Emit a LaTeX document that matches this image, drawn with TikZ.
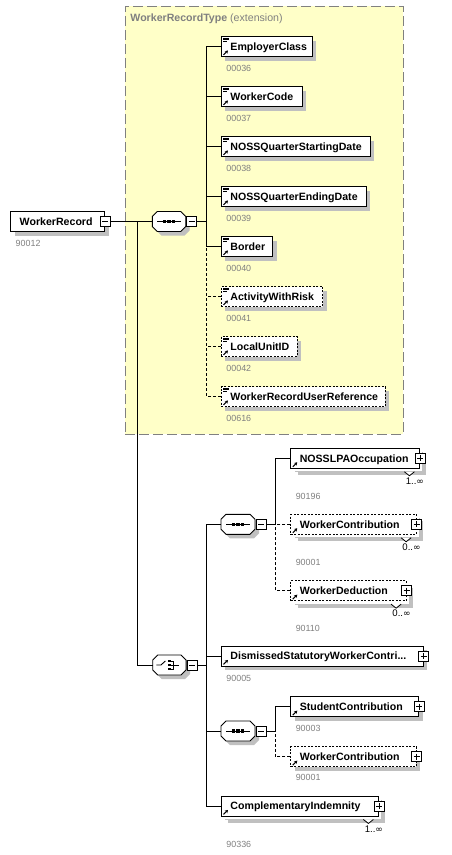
\documentclass[tikz,border=0pt]{standalone}
\usepackage{fontspec}
\setmainfont{Liberation Sans}
\newfontfamily\djv{DejaVu Sans}
\usetikzlibrary{calc,shadows,arrows.meta}
\definecolor{ybg}{RGB}{255,255,200}
\definecolor{ybd}{RGB}{128,128,128}
\definecolor{lblgrey}{RGB}{128,128,128}
\definecolor{shgrey}{RGB}{192,192,192}
\newcommand\elfont{\fontsize{10.6}{12}\selectfont\bfseries}
\newcommand\lblfont{\fontsize{8.9}{10}\selectfont}
\newcommand\multfont{\fontsize{9.6}{10}\selectfont}
\newcommand\infsym{{\djv\fontsize{9}{10}\selectfont ∞}}
\newcommand\simpleicon[1]{\draw[line width=0.6pt] ($(#1.north west)+(2,1.8)$) -- +(5.5,0) ($(#1.north west)+(2,3.5)$) -- +(5.5,0) ($(#1.north west)+(2,5.2)$) -- +(4,0);}
\newcommand\refarrow[1]{\draw[line width=1.1pt, -{Stealth[length=3pt,width=3.6pt]}] ($(#1.south west)+(2.5,-2)$) -- +(4.5,-4.5);}
\newcommand\octo[1]{\path[octline] ($(#1.north west)+(5,0)$) -- ($(#1.north east)+(-5,0)$) -- ($(#1.north east)+(0,5)$) -- ($(#1.south east)+(0,-5)$) -- ($(#1.south east)+(-5,0)$) -- ($(#1.south west)+(5,0)$) -- ($(#1.south west)+(0,-5)$) -- ($(#1.north west)+(0,5)$) -- cycle;}
\newcommand\seqicon[1]{\draw[line width=0.9pt] ($(#1.center)+(-12,0)$) -- ($(#1.center)+(12,0)$);
  \foreach \d in {-4.5,0,4.5}{\fill ($(#1.center)+(\d,0)+(-1.6,-1.6)$) rectangle +(3.2,3.2);}}
\newcommand\choiceicon[1]{\draw[line width=0.9pt] ($(#1.center)+(-13,0)$) -- ($(#1.center)+(-8.5,0)$) -- ($(#1.center)+(-4,-4)$);
  \foreach \d in {-4,0,4}{\fill ($(#1.center)+(-1.2,\d)+(0,-1.2)$) rectangle +(2.4,2.4);}
  \draw[line width=0.9pt] ($(#1.center)+(1.2,-4)$) -- ($(#1.center)+(4,-4)$) -- ($(#1.center)+(4,4)$) -- ($(#1.center)+(1.2,4)$) ($(#1.center)+(1.2,0)$) -- ($(#1.center)+(10,0)$);}
\newcommand\notch[1]{\filldraw[fill=white, line width=0.8pt] ($(#1.south east)+(-15.5,3)$) -- ++(5,4) -- ++(5,-4);}
\begin{document}
\begin{tikzpicture}[x=1pt, y=-1pt, line width=0.9pt,
  elbox/.style={draw, fill=white, minimum height=20pt, inner sep=0pt, anchor=west, text height=7.7pt, text depth=0pt, align=left, font=\elfont, general shadow={draw=none, fill=shgrey, shadow xshift=4pt, shadow yshift=-4pt}},
  opt/.style={dash pattern=on 2pt off 1.5pt},
  multi/.style={general shadow={draw=none, fill=shgrey, shadow xshift=7pt, shadow yshift=-7pt}, general shadow={fill=white, shadow xshift=3pt, shadow yshift=-3pt}},
  octnode/.style={rectangle, minimum width=33.4pt, minimum height=20pt, inner sep=0pt, outer sep=0pt, anchor=west},
  octline/.style={draw, fill=white, general shadow={draw=none, fill=shgrey, shadow xshift=4pt, shadow yshift=-4pt}},
  pmbox/.style={draw, fill=white, minimum size=10pt, inner sep=0pt, line width=0.8pt},
  minusbox/.style={pmbox, path picture={\draw[line width=0.8pt] ([xshift=2pt]path picture bounding box.west) -- ([xshift=-2pt]path picture bounding box.east);}},
  plusbox/.style={pmbox, path picture={\draw[line width=0.8pt] ([xshift=2pt]path picture bounding box.west) -- ([xshift=-2pt]path picture bounding box.east) ([yshift=-2pt]path picture bounding box.north) -- ([yshift=2pt]path picture bounding box.south);}},
  lbl/.style={anchor=base west, font=\lblfont, text=lblgrey, inner sep=0pt},
  mult/.style={anchor=east, font=\multfont, inner sep=0pt},
  dashline/.style={dash pattern=on 3pt off 2pt}]
\useasboundingbox (0,0) rectangle (451,855);

% extension box
\node[draw=ybd, fill=ybg, dash pattern=on 10pt off 4pt, line width=0.9pt, minimum width=278pt, minimum height=428pt, anchor=north west, inner sep=0pt] (ext) at (124.5,5.5) {};
\node[anchor=base west, inner sep=0pt, text=lblgrey, font=\fontsize{10.6}{12}\selectfont] (title) at ($(ext.north west)+(5.5,16)$) {\textbf{WorkerRecordType} (extension)};

% root
\node[elbox, text width=94pt] (wrk) at (10.3,221.5) {\hspace*{9pt}WorkerRecord};
\node[minusbox] (wrkpm) at (wrk.east) {};
\node[lbl] (wrkl) at ($(wrk.west)+(5,25.2)$) {90012};

% sequence 1
\node[octnode] (s1) at (152.3,221.5) {};
\octo{s1}\seqicon{s1}
\node[minusbox] (s1pm) at ($(s1.east)+(6,0)$) {};

% group A
\node[elbox, text width=91pt] (ec) at (221,46.5) {\hspace*{9pt}EmployerClass};
\node[elbox, text width=81pt] (wcd) at (221,96.5) {\hspace*{9pt}WorkerCode};
\node[elbox, text width=149pt] (qs) at (221,146.5) {\hspace*{9pt}NOSSQuarterStartingDate};
\node[elbox, text width=145pt] (qe) at (221,196.5) {\hspace*{9pt}NOSSQuarterEndingDate};
\node[elbox, text width=51.3pt] (bo) at (221,246.5) {\hspace*{9pt}Border};
\node[elbox, opt, text width=101.3pt] (ar) at (221,296.5) {\hspace*{9pt}ActivityWithRisk};
\node[elbox, opt, text width=75.7pt] (lu) at (221,346.5) {\hspace*{9pt}LocalUnitID};
\node[elbox, opt, text width=164pt] (wr) at (221,396.5) {\hspace*{9pt}WorkerRecordUserReference};
\foreach \n in {ec,wcd,qs,qe,bo,ar,lu,wr}{\simpleicon{\n}\refarrow{\n}}
\node[lbl] (ecl) at ($(ec.west)+(5,25.4)$) {00036};
\node[lbl] (wcdl) at ($(wcd.west)+(5,25.4)$) {00037};
\node[lbl] (qsl) at ($(qs.west)+(5,25.4)$) {00038};
\node[lbl] (qel) at ($(qe.west)+(5,25.4)$) {00039};
\node[lbl] (bol) at ($(bo.west)+(5,25.4)$) {00040};
\node[lbl] (arl) at ($(ar.west)+(5,25.4)$) {00041};
\node[lbl] (lul) at ($(lu.west)+(5,25.4)$) {00042};
\node[lbl] (wrl) at ($(wr.west)+(5,25.4)$) {00616};

% choice
\node[octnode] (ch) at (152.7,665) {};
\octo{ch}\choiceicon{ch}
\node[minusbox] (chpm) at ($(ch.east)+(6,0)$) {};

% sequence 2
\node[octnode, minimum width=34pt] (s2) at (221,524.3) {};
\octo{s2}\seqicon{s2}
\node[minusbox] (s2pm) at ($(s2.east)+(6,0)$) {};

\node[elbox, multi, text width=128.7pt] (lp) at (290.3,458.3) {\hspace*{9pt}NOSSLPAOccupation};
\notch{lp}
\node[plusbox] (lppm) at (lp.east) {};
\node[mult] (lpm) at ($(lp.south east)+(4.5,12.5)$) {1..\infsym};
\node[lbl] (lpl) at ($(lp.west)+(5,41.6)$) {90196};

\node[elbox, opt, multi, text width=125.4pt] (wc1) at (290.3,524.3) {\hspace*{9pt}WorkerContribution};
\notch{wc1}
\node[plusbox] (wc1pm) at (wc1.east) {};
\node[mult] (wc1m) at ($(wc1.south east)+(4.5,12.5)$) {0..\infsym};
\node[lbl] (wc1l) at ($(wc1.west)+(5,41.6)$) {90001};

\node[elbox, opt, multi, text width=115.4pt] (wd) at (290.3,590.7) {\hspace*{9pt}WorkerDeduction};
\notch{wd}
\node[plusbox] (wdpm) at (wd.east) {};
\node[mult] (wdm) at ($(wd.south east)+(4.5,12.5)$) {0..\infsym};
\node[lbl] (wdl) at ($(wd.west)+(5,40.8)$) {90110};

% dismissed
\node[elbox, text width=201.7pt] (ds) at (221,656) {\hspace*{9pt}DismissedStatutoryWorkerContri...};
\node[plusbox] (dspm) at (ds.east) {};
\node[lbl] (dsl) at ($(ds.west)+(5,25.5)$) {90005};

% sequence 3
\node[octnode, minimum width=34pt] (s3) at (221,731) {};
\octo{s3}\seqicon{s3}
\node[minusbox] (s3pm) at ($(s3.east)+(6,0)$) {};

\node[elbox, text width=128pt] (sc) at (290.3,706.7) {\hspace*{9pt}StudentContribution};
\node[plusbox] (scpm) at (sc.east) {};
\node[lbl] (scl) at ($(sc.west)+(5,24.8)$) {90003};

\node[elbox, opt, text width=125.4pt] (wc2) at (290.3,756.7) {\hspace*{9pt}WorkerContribution};
\node[plusbox] (wc2pm) at (wc2.east) {};
\node[lbl] (wc2l) at ($(wc2.west)+(5,24.2)$) {90001};

% complementary
\node[elbox, multi, text width=157pt] (ci) at (221,806) {\hspace*{9pt}ComplementaryIndemnity};
\notch{ci}
\node[plusbox] (cipm) at (ci.east) {};
\node[mult] (cim) at ($(ci.south east)+(4.5,12.5)$) {1..\infsym};
\node[lbl] (cil) at ($(ci.west)+(5,41.2)$) {90336};

\foreach \n in {lp,wc1,wd,ds,sc,wc2,ci}{\refarrow{\n}}

% connectors
\coordinate (j1) at (137.7,221.5);
\coordinate (b1) at (206.7,221.5);
\coordinate (b2) at (206.3,665);
\coordinate (b3) at (275.7,524.3);
\coordinate (b4) at (275.5,731);

\draw (wrkpm.east) -- (s1.west);
\draw (j1) |- (ch.west);
\draw (s1pm.east) -- (b1);
\draw (ec.west) -| (b1);
\draw (wcd.west) -- (wcd.west -| b1);
\draw (qs.west) -- (qs.west -| b1);
\draw (qe.west) -- (qe.west -| b1);
\draw (bo.west) -| (b1);
\draw[dashline] (wr.west) -| (b1 |- bo.west);
\draw[dashline] (ar.west) -- (ar.west -| b1);
\draw[dashline] (lu.west) -- (lu.west -| b1);

\draw (chpm.east) -- (b2);
\draw (s2.west) -| (b2);
\draw (ci.west) -| (b2);
\draw (ds.west) -- (ds.west -| b2);
\draw (s3.west) -- (s3.west -| b2);

\draw (s2pm.east) -- (b3);
\draw (lp.west) -| (b3);
\draw[dashline] (wc1.west) -- (b3);
\draw[dashline] (wd.west) -| (b3);

\draw (s3pm.east) -- (b4);
\draw (sc.west) -| (b4);
\draw[dashline] (wc2.west) -| (b4);
\end{tikzpicture}
\end{document}
